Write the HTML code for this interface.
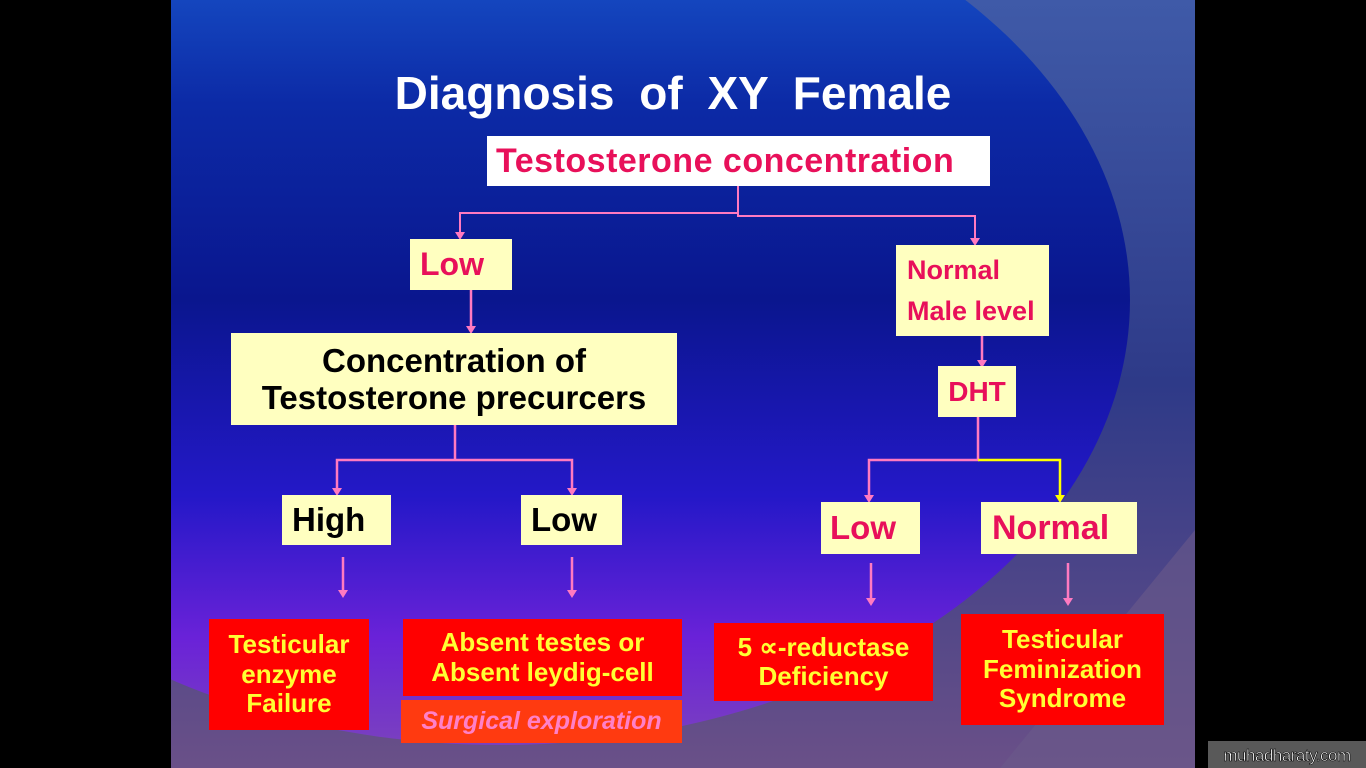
<!DOCTYPE html>
<html><head><style>
body{margin:0;width:1366px;height:768px;background:#000;overflow:hidden;position:relative;font-family:"Liberation Sans",sans-serif}
.b{position:absolute;box-sizing:border-box;font-weight:bold;display:flex;align-items:center;justify-content:center;text-align:center;line-height:1.13}
.y{background:#ffffc0}
.r{background:#ff0000;color:#ffff33;font-size:26px}
.c{color:#e8105a}
</style></head><body>
<svg style="position:absolute;left:0;top:0" width="1366" height="768">
<defs>
<linearGradient id="o" x1="0" y1="0" x2="0" y2="1"><stop offset="0" stop-color="#3f5aa8"/><stop offset=".5" stop-color="#2e3a88"/><stop offset="1" stop-color="#6a5088"/></linearGradient>
<linearGradient id="i" x1="0" y1="0" x2="0" y2="1"><stop offset="0" stop-color="#1f6ce0"/><stop offset=".28" stop-color="#0c2aa6"/><stop offset=".5" stop-color="#0a168e"/><stop offset=".72" stop-color="#2418c8"/><stop offset=".88" stop-color="#6a22d8"/><stop offset="1" stop-color="#7a40c0"/></linearGradient>
<clipPath id="s"><rect x="171" y="0" width="1024" height="768"/></clipPath>
</defs>
<g clip-path="url(#s)">
<rect x="171" y="0" width="1024" height="768" fill="url(#o)"/>
<ellipse cx="500" cy="300" rx="630" ry="445" fill="url(#i)"/>
<polygon points="1195,530 1000,768 1195,768" fill="#6a5a8a" opacity=".6"/>
</g>
<g stroke="#ff7ac0" stroke-width="2" fill="none">
<path d="M738 186V213H460V234M738 213V216H975V240"/>
<path d="M471 290V328M455 425V460H337V490M455 460H572V490M343 557V592M572 557V592M982 336V362M978 417V460H869V497M871 563V600M1068 563V600" stroke-width="2.5"/>
</g>
<path d="M978 460H1060V497" stroke="#ffff00" stroke-width="2.5" fill="none"/>
<g fill="#ff7ac0">
<polygon points="455,232 465,232 460,240"/><polygon points="970,238 980,238 975,246"/>
<polygon points="466,326 476,326 471,334"/><polygon points="332,488 342,488 337,496"/><polygon points="567,488 577,488 572,496"/>
<polygon points="338,590 348,590 343,598"/><polygon points="567,590 577,590 572,598"/><polygon points="977,360 987,360 982,368"/>
<polygon points="864,495 874,495 869,503"/><polygon points="866,598 876,598 871,606"/><polygon points="1063,598 1073,598 1068,606"/>
</g>
<polygon points="1055,495 1065,495 1060,503" fill="#ffff00"/>
<rect x="1208" y="741" width="158" height="27" fill="#595959"/>
<text x="1287" y="761" font-family="Liberation Sans" font-size="17" fill="#fff" stroke="#000" stroke-width="0.6" text-anchor="middle" letter-spacing="-0.5">muhadharaty.com</text>
</svg>
<div class="b" style="left:280px;top:66px;width:786px;height:56px;color:#fff;font-size:46px;word-spacing:12px">Diagnosis of XY Female</div>
<div class="b c" style="left:487px;top:136px;width:503px;height:50px;background:#fff;font-size:34px;justify-content:flex-start;padding-left:9px;letter-spacing:0.5px">Testosterone concentration</div>
<div class="b y c" style="left:410px;top:239px;width:102px;height:51px;font-size:32px;justify-content:flex-start;padding-left:10px">Low</div>
<div class="b y" style="left:231px;top:333px;width:446px;height:92px;font-size:33px;color:#000">Concentration of<br>Testosterone precurcers</div>
<div class="b y" style="left:282px;top:495px;width:109px;height:50px;font-size:33px;color:#000;justify-content:flex-start;padding-left:10px">High</div>
<div class="b y" style="left:521px;top:495px;width:101px;height:50px;font-size:33px;color:#000;justify-content:flex-start;padding-left:10px">Low</div>
<div class="b r" style="left:209px;top:619px;width:160px;height:111px">Testicular<br>enzyme<br>Failure</div>
<div class="b r" style="left:403px;top:619px;width:279px;height:77px">Absent testes or<br>Absent leydig-cell</div>
<div class="b" style="left:401px;top:700px;width:281px;height:43px;background:#ff3a10;color:#ff80c8;font-size:25px;font-style:italic">Surgical exploration</div>
<div class="b y c" style="left:896px;top:245px;width:153px;height:91px;font-size:27px;justify-content:flex-start;text-align:left;padding-left:11px;line-height:1.5">Normal<br>Male level</div>
<div class="b y c" style="left:938px;top:366px;width:78px;height:51px;font-size:28px">DHT</div>
<div class="b y c" style="left:821px;top:502px;width:99px;height:52px;font-size:33px;justify-content:flex-start;padding-left:9px">Low</div>
<div class="b y c" style="left:981px;top:502px;width:156px;height:52px;font-size:34px;justify-content:flex-start;padding-left:11px">Normal</div>
<div class="b r" style="left:714px;top:623px;width:219px;height:78px">5 ∝-reductase<br>Deficiency</div>
<div class="b r" style="left:961px;top:614px;width:203px;height:111px">Testicular<br>Feminization<br>Syndrome</div>
</body></html>
